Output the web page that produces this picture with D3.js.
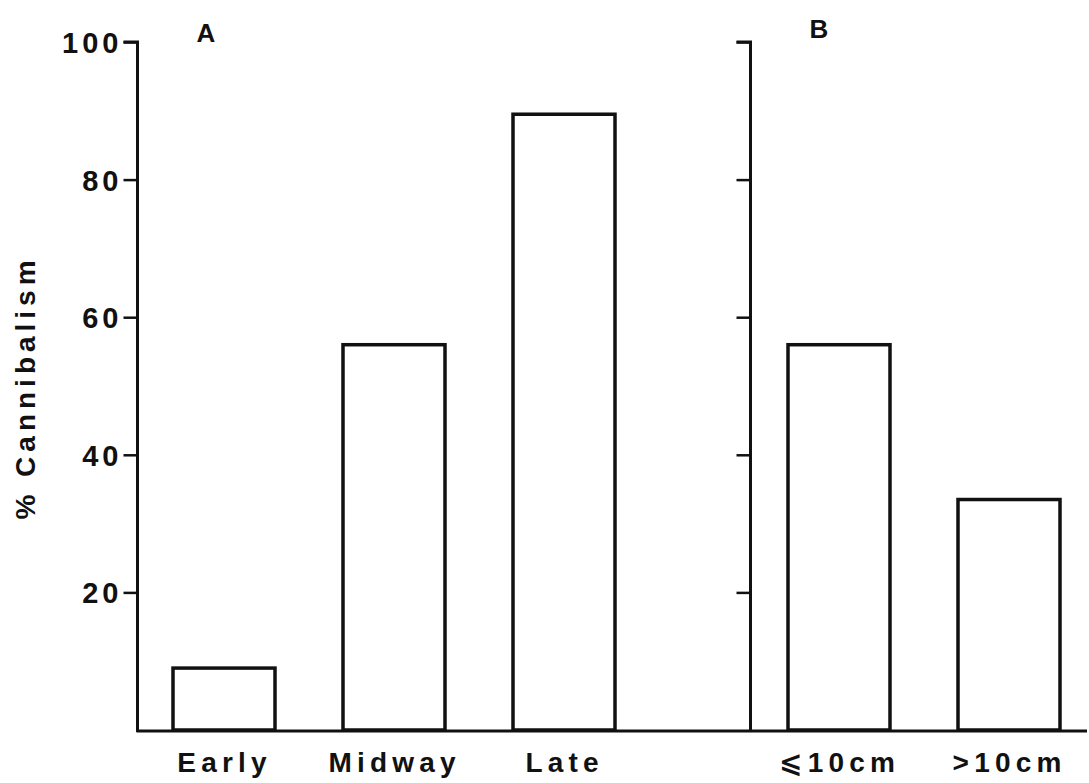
<!DOCTYPE html>
<html>
<head>
<meta charset="utf-8">
<script src="https://cdn.jsdelivr.net/npm/d3@7"></script>
<style>
  html, body { margin: 0; padding: 0; background: #fff; }
  svg { display: block; }
  text { font-family: "Liberation Sans", "DejaVu Sans", Arial, Helvetica, sans-serif; font-weight: bold; fill: #111; }
</style>
</head>
<body>
<svg id="chart" width="1089" height="783"></svg>
<script>
// ---- data ----
const panelACategories = ["Early", "Midway", "Late"];
const panelAValues = [9, 56, 89.5];
const panelBCategories = ["\u2A7D10cm", ">10cm"];
const panelBValues = [56, 33.5];
const yTicks = [20, 40, 60, 80, 100];
const panelTitles = ["A", "B"];
const yLabel = "% Cannibalism";

// ---- layout ----
const svg = d3.select("#chart");
const ink = "#111";
const LS = 5.2; // letter spacing

const y = d3.scaleLinear().domain([0, 100]).range([730, 42]);

const xA = d3.scaleBand().domain(panelACategories).range([139, 649])
  .paddingInner(0.4).paddingOuter(0.2);
const xB = d3.scaleBand().domain(panelBCategories).range([754, 1094])
  .paddingInner(0.4).paddingOuter(0.2);

const axisAx = 137.5;
const axisBx = 750.5;

// baseline
svg.append("line")
  .attr("x1", axisAx - 1).attr("x2", 1087)
  .attr("y1", y(0) + 1).attr("y2", y(0) + 1)
  .attr("stroke", ink).attr("stroke-width", 3);

// y axes
function drawAxis(x0, labels) {
  const ax = d3.axisLeft(y).tickValues(yTicks).tickSize(14).tickPadding(6)
    .tickFormat(labels ? d3.format("d") : () => "");
  const g = svg.append("g").attr("transform", `translate(${x0},0)`).call(ax);
  g.select(".domain").attr("d", `M-14,${y(100)}H0V${y(0) + 2}`)
    .attr("stroke", ink).attr("stroke-width", 3).attr("fill", "none");
  g.selectAll(".tick line").attr("stroke", ink).attr("stroke-width", 2.5);
  g.selectAll(".tick text")
    .attr("font-size", 29)
    .attr("font-family", "Liberation Sans, Arial, sans-serif")
    .attr("font-weight", "bold")
    .attr("fill", ink)
    .attr("letter-spacing", 4)
    .attr("x", -19 + 4)
    .attr("dy", "0.36em");
  return g;
}
drawAxis(axisAx, true);
drawAxis(axisBx, false);

// bars
function drawBars(xs, cats, vals) {
  svg.append("g").selectAll("rect")
    .data(cats.map((c, i) => ({ c, v: vals[i] })))
    .join("rect")
    .attr("x", d => xs(d.c))
    .attr("width", xs.bandwidth())
    .attr("y", d => y(d.v))
    .attr("height", d => y(0) - y(d.v))
    .attr("fill", "#fff")
    .attr("stroke", ink)
    .attr("stroke-width", 3.5);

  svg.append("g").selectAll("text")
    .data(cats)
    .join("text")
    .attr("x", d => xs(d) + xs.bandwidth() / 2 + LS / 2 - 2)
    .attr("y", 772)
    .attr("text-anchor", "middle")
    .attr("font-size", 28)
    .attr("letter-spacing", LS)
    .text(d => d);
}
drawBars(xA, panelACategories, panelAValues);
drawBars(xB, panelBCategories, panelBValues);

// panel titles
svg.append("text").attr("x", 206).attr("y", 42).attr("text-anchor", "middle")
  .attr("font-size", 26).text(panelTitles[0]);
svg.append("text").attr("x", 819).attr("y", 38).attr("text-anchor", "middle")
  .attr("font-size", 26).text(panelTitles[1]);

// y label
svg.append("text")
  .attr("transform", "translate(35,390) rotate(-90)")
  .attr("text-anchor", "middle")
  .attr("font-size", 28)
  .attr("letter-spacing", 5)
  .attr("dx", 2.5)
  .text(yLabel);
</script>
</body>
</html>
